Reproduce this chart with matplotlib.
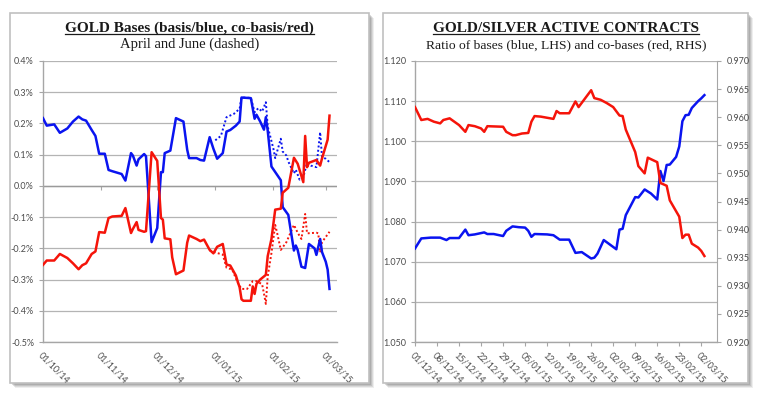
import matplotlib
matplotlib.use("Agg")
import matplotlib.pyplot as plt
import matplotlib.dates as mdates
from matplotlib.patches import Rectangle
from matplotlib.lines import Line2D
from matplotlib.ticker import FuncFormatter
import pandas as pd

# ---- left panel: GOLD bases (% values) ----
basis_apr_dates = [
    "2014-10-01", "2014-10-03", "2014-10-07", "2014-10-10", "2014-10-14", "2014-10-17",
    "2014-10-20", "2014-10-22", "2014-10-24", "2014-10-27", "2014-10-29", "2014-10-31",
    "2014-11-03", "2014-11-05", "2014-11-07", "2014-11-12", "2014-11-14", "2014-11-17",
    "2014-11-18", "2014-11-20", "2014-11-21", "2014-11-24", "2014-11-25", "2014-11-28",
    "2014-12-01", "2014-12-03", "2014-12-04", "2014-12-05", "2014-12-08", "2014-12-11",
    "2014-12-15", "2014-12-17", "2014-12-18", "2014-12-22", "2014-12-24", "2014-12-26",
    "2014-12-29", "2014-12-31", "2015-01-02", "2015-01-05", "2015-01-07", "2015-01-09",
    "2015-01-12", "2015-01-14", "2015-01-15", "2015-01-20", "2015-01-22", "2015-01-23",
    "2015-01-25", "2015-01-27", "2015-01-28", "2015-01-29", "2015-01-31", "2015-02-05",
    "2015-02-06", "2015-02-09", "2015-02-12", "2015-02-13", "2015-02-14", "2015-02-16",
    "2015-02-18", "2015-02-20", "2015-02-23", "2015-02-24", "2015-02-26", "2015-02-27",
    "2015-03-01", "2015-03-02", "2015-03-03",
]
basis_apr = [
    0.217, 0.193, 0.197, 0.170, 0.184, 0.206,
    0.222, 0.213, 0.209, 0.179, 0.160, 0.103,
    0.103, 0.051, 0.047, 0.038, 0.017, 0.105,
    0.097, 0.065, 0.085, 0.102, 0.095, -0.180,
    -0.135, 0.044, 0.044, 0.105, 0.113, 0.217,
    0.206, 0.116, 0.089, 0.089, 0.083, 0.081,
    0.156, 0.119, 0.087, 0.105, 0.174, 0.179,
    0.193, 0.206, 0.283, 0.281, 0.215, 0.228,
    0.206, 0.180, 0.220, 0.177, 0.062, 0.018,
    -0.068, -0.093, -0.207, -0.191, -0.205, -0.259,
    -0.263, -0.186, -0.200, -0.221, -0.170, -0.212,
    -0.243, -0.268, -0.330,
]

cobasis_apr_dates = [
    "2014-10-01", "2014-10-03", "2014-10-07", "2014-10-10", "2014-10-14", "2014-10-17",
    "2014-10-20", "2014-10-22", "2014-10-24", "2014-10-27", "2014-10-29", "2014-10-31",
    "2014-11-03", "2014-11-05", "2014-11-07", "2014-11-12", "2014-11-14", "2014-11-17",
    "2014-11-18", "2014-11-20", "2014-11-21", "2014-11-24", "2014-11-25", "2014-11-28",
    "2014-12-01", "2014-12-03", "2014-12-04", "2014-12-05", "2014-12-08", "2014-12-09",
    "2014-12-11", "2014-12-15", "2014-12-17", "2014-12-18", "2014-12-22", "2014-12-24",
    "2014-12-26", "2014-12-29", "2014-12-31", "2015-01-02", "2015-01-05", "2015-01-07",
    "2015-01-09", "2015-01-12", "2015-01-13", "2015-01-14", "2015-01-15", "2015-01-16",
    "2015-01-20", "2015-01-21", "2015-01-22", "2015-01-23", "2015-01-25", "2015-01-27",
    "2015-01-28", "2015-01-29", "2015-01-31", "2015-02-02", "2015-02-05", "2015-02-06",
    "2015-02-09", "2015-02-12", "2015-02-14", "2015-02-17", "2015-02-18", "2015-02-19",
    "2015-02-20", "2015-02-24", "2015-02-26", "2015-02-27", "2015-03-02", "2015-03-03",
]
cobasis_apr = [
    -0.253, -0.239, -0.239, -0.218, -0.231, -0.248,
    -0.267, -0.254, -0.248, -0.218, -0.210, -0.148,
    -0.150, -0.103, -0.098, -0.096, -0.071, -0.151,
    -0.138, -0.116, -0.141, -0.147, -0.145, 0.108,
    0.080, -0.103, -0.108, -0.168, -0.171, -0.229,
    -0.283, -0.271, -0.182, -0.159, -0.170, -0.177,
    -0.172, -0.205, -0.216, -0.195, -0.186, -0.252,
    -0.255, -0.287, -0.307, -0.325, -0.363, -0.368,
    -0.368, -0.322, -0.346, -0.314, -0.300, -0.290,
    -0.285, -0.225, -0.170, -0.076, -0.073, -0.022,
    -0.006, 0.090, 0.071, 0.012, 0.160, 0.060,
    0.074, 0.083, 0.065, 0.088, 0.148, 0.225,
]

basis_jun_dates = [
    "2015-01-01", "2015-01-04", "2015-01-07", "2015-01-11", "2015-01-14", "2015-01-15",
    "2015-01-20", "2015-01-22", "2015-01-24", "2015-01-26", "2015-01-28", "2015-01-29",
    "2015-02-01", "2015-02-02", "2015-02-05", "2015-02-06", "2015-02-08", "2015-02-09",
    "2015-02-12", "2015-02-13", "2015-02-15", "2015-02-17", "2015-02-19", "2015-02-21",
    "2015-02-24", "2015-02-26", "2015-02-27", "2015-03-01", "2015-03-03",
]
basis_jun = [
    0.146, 0.160, 0.220, 0.231, 0.247, 0.283,
    0.282, 0.236, 0.249, 0.238, 0.268, 0.190,
    0.120, 0.089, 0.151, 0.110, 0.097, 0.078,
    0.040, 0.052, 0.020, 0.028, 0.074, 0.065,
    0.060, 0.172, 0.092, 0.087, 0.076,
]

cobasis_jun_dates = [
    "2014-12-29", "2015-01-02", "2015-01-05", "2015-01-07", "2015-01-10", "2015-01-13",
    "2015-01-15", "2015-01-18", "2015-01-21", "2015-01-23", "2015-01-26", "2015-01-27",
    "2015-01-28", "2015-01-29", "2015-01-31", "2015-02-02", "2015-02-03", "2015-02-05",
    "2015-02-08", "2015-02-12", "2015-02-14", "2015-02-16", "2015-02-18", "2015-02-19",
    "2015-02-24", "2015-02-25", "2015-02-26", "2015-02-27", "2015-03-03",
]
cobasis_jun = [
    -0.207, -0.215, -0.220, -0.262, -0.268, -0.310,
    -0.330, -0.330, -0.305, -0.305, -0.315, -0.345,
    -0.378, -0.290, -0.215, -0.125, -0.150, -0.205,
    -0.180, -0.125, -0.150, -0.170, -0.090, -0.152,
    -0.150, -0.152, -0.213, -0.180, -0.147,
]

# ---- right panel: GOLD/SILVER ratios ----
ratio_basis_dates = [
    "2014-12-01", "2014-12-03", "2014-12-06", "2014-12-09", "2014-12-11", "2014-12-12",
    "2014-12-15", "2014-12-17", "2014-12-18", "2014-12-20", "2014-12-23", "2014-12-24",
    "2014-12-26", "2014-12-29", "2014-12-30", "2015-01-01", "2015-01-03", "2015-01-05",
    "2015-01-06", "2015-01-07", "2015-01-08", "2015-01-12", "2015-01-14", "2015-01-16",
    "2015-01-19", "2015-01-21", "2015-01-23", "2015-01-26", "2015-01-27", "2015-01-28",
    "2015-01-30", "2015-02-03", "2015-02-04", "2015-02-05", "2015-02-06", "2015-02-09",
    "2015-02-10", "2015-02-12", "2015-02-14", "2015-02-16", "2015-02-17", "2015-02-18",
    "2015-02-19", "2015-02-20", "2015-02-22", "2015-02-23", "2015-02-24", "2015-02-25",
    "2015-02-26", "2015-02-27", "2015-03-01", "2015-03-02", "2015-03-03",
]
ratio_basis = [
    1.0733, 1.0758, 1.0760, 1.0760, 1.0754, 1.0759,
    1.0759, 1.0780, 1.0766, 1.0768, 1.0773, 1.0769,
    1.0769, 1.0764, 1.0777, 1.0788, 1.0786, 1.0785,
    1.0777, 1.0762, 1.0769, 1.0768, 1.0766, 1.0755,
    1.0755, 1.0722, 1.0724, 1.0708, 1.0710, 1.0720,
    1.0754, 1.0731, 1.0780, 1.0782, 1.0816, 1.0861,
    1.0860, 1.0880, 1.0870, 1.0855, 1.0926, 1.0901,
    1.0941, 1.0942, 1.0961, 1.0987, 1.1050, 1.1065,
    1.1066, 1.1083, 1.1100, 1.1107, 1.1115,
]

ratio_cobasis_dates = [
    "2014-12-01", "2014-12-03", "2014-12-05", "2014-12-07", "2014-12-09", "2014-12-10",
    "2014-12-12", "2014-12-13", "2014-12-15", "2014-12-17", "2014-12-18", "2014-12-20",
    "2014-12-22", "2014-12-23", "2014-12-24", "2014-12-29", "2014-12-30", "2015-01-01",
    "2015-01-02", "2015-01-04", "2015-01-06", "2015-01-07", "2015-01-08", "2015-01-10",
    "2015-01-13", "2015-01-14", "2015-01-15", "2015-01-16", "2015-01-19", "2015-01-21",
    "2015-01-22", "2015-01-26", "2015-01-27", "2015-01-29", "2015-01-31", "2015-02-02",
    "2015-02-04", "2015-02-05", "2015-02-06", "2015-02-09", "2015-02-10", "2015-02-12",
    "2015-02-13", "2015-02-16", "2015-02-17", "2015-02-19", "2015-02-20", "2015-02-23",
    "2015-02-24", "2015-02-25", "2015-02-26", "2015-02-27", "2015-03-01", "2015-03-02",
    "2015-03-03",
]
ratio_cobasis = [
    0.9618, 0.9595, 0.9597, 0.9592, 0.9589, 0.9595,
    0.9598, 0.9594, 0.9586, 0.9574, 0.9586, 0.9584,
    0.9580, 0.9574, 0.9584, 0.9583, 0.9574, 0.9568,
    0.9568, 0.9571, 0.9572, 0.9592, 0.9602, 0.9601,
    0.9598, 0.9597, 0.9611, 0.9607, 0.9607, 0.9628,
    0.9618, 0.9648, 0.9634, 0.9631, 0.9625, 0.9618,
    0.9603, 0.9602, 0.9578, 0.9538, 0.9513, 0.9500,
    0.9528, 0.9520, 0.9483, 0.9478, 0.9452, 0.9423,
    0.9385, 0.9391, 0.9391, 0.9375, 0.9368, 0.9362,
    0.9353,
]

left_ticks = ["2014-10-01", "2014-11-01", "2014-12-01", "2015-01-01", "2015-02-01", "2015-03-01"]
right_ticks = pd.date_range("2014-12-01", "2015-03-02", freq="7D")

BLUE = "#0a14f0"
RED = "#f5140a"
GRID = "#b4b4b4"
SPINE = "#a6a6a6"
TICK_TXT = "#4d4d4d"
TICK_FONT = "Lato"
TICK_SIZE = 6.5
TITLE_FONT = "Liberation Serif"

W, H = 764, 398
fig = plt.figure(figsize=(W / 100, H / 100), dpi=100)
fig.patch.set_facecolor("white")


def px_rect(x0, y0, x1, y1):
    # pixel box (y from top) -> figure fraction [l, b, w, h]
    return [x0 / W, (H - y1) / H, (x1 - x0) / W, (y1 - y0) / H]


def panel_frame(x0, y0, x1, y1):
    for off, alpha in [(5, 0.10), (4, 0.14), (3, 0.18), (2, 0.22)]:
        l, b, w, h = px_rect(x0 + off, y0 + off, x1 + off, y1 + off)
        fig.patches.append(Rectangle((l, b), w, h, transform=fig.transFigure,
                                     facecolor="#606060", edgecolor="none", alpha=alpha, zorder=-3))
    l, b, w, h = px_rect(x0, y0, x1, y1)
    fig.patches.append(Rectangle((l, b), w, h, transform=fig.transFigure,
                                 facecolor="white", edgecolor="#c0c0c0", linewidth=1.2, zorder=-2))


panel_frame(10, 13, 369, 383)
panel_frame(383, 13, 748, 383)


def style_axes(ax):
    ax.set_facecolor("none")
    for side in ("top", "right"):
        ax.spines[side].set_visible(False)
    for side in ("left", "bottom"):
        ax.spines[side].set_color(SPINE)
        ax.spines[side].set_linewidth(1.0)
    ax.grid(axis="y", color=GRID, linewidth=0.9)
    ax.set_axisbelow(True)
    ax.tick_params(axis="both", colors=SPINE, labelcolor=TICK_TXT, labelsize=TICK_SIZE,
                   direction="out", length=3, width=0.8)
    for lab in ax.get_xticklabels() + ax.get_yticklabels():
        lab.set_fontfamily(TICK_FONT)


# ---- left chart ----
ax1 = fig.add_axes(px_rect(43, 61, 337, 342))
ax1.plot(pd.to_datetime(basis_apr_dates), basis_apr, color=BLUE, lw=1.8, zorder=3)
ax1.plot(pd.to_datetime(cobasis_apr_dates), cobasis_apr, color=RED, lw=1.8, zorder=3)
ax1.plot(pd.to_datetime(basis_jun_dates), basis_jun, color=BLUE, lw=1.4, ls=(0, (1, 1.2)), zorder=2)
ax1.plot(pd.to_datetime(cobasis_jun_dates), cobasis_jun, color=RED, lw=1.4, ls=(0, (1, 1.2)), zorder=2)
ax1.set_ylim(-0.5, 0.4)
ax1.set_yticks([-0.5, -0.4, -0.3, -0.2, -0.1, 0.0, 0.1, 0.2, 0.3, 0.4])
ax1.yaxis.set_major_formatter(FuncFormatter(lambda v, p: f"{v:.1f}%"))
ax1.set_xlim(pd.Timestamp("2014-10-01"), pd.Timestamp("2015-03-07"))
lt = pd.to_datetime(left_ticks)
ax1.set_xticks(lt)
ax1.xaxis.set_major_formatter(mdates.DateFormatter("%d/%m/%y"))
ax1.axhline(0, color="#9a9a9a", lw=1.0, zorder=1)
style_axes(ax1)
ax1.tick_params(axis="x", length=0, pad=6)
plt.setp(ax1.get_xticklabels(), rotation=-45, ha="left", va="top", rotation_mode="anchor")
zero_ax = ax1.secondary_xaxis(0.0, transform=ax1.transData)
zero_ax.set_xticks(lt)
zero_ax.tick_params(axis="x", direction="out", length=3, width=0.8, colors=SPINE, labelbottom=False)
zero_ax.spines["bottom"].set_visible(False)

# ---- right chart ----
ax2 = fig.add_axes(px_rect(415, 61, 717, 342))
ax2.plot(pd.to_datetime(ratio_basis_dates), ratio_basis, color=BLUE, lw=1.8, zorder=3)
ax2.set_ylim(1.05, 1.12)
ax2.set_yticks([1.05, 1.06, 1.07, 1.08, 1.09, 1.10, 1.11, 1.12])
ax2.yaxis.set_major_formatter(FuncFormatter(lambda v, p: f"{v:.3f}"))
ax2.set_xlim(pd.Timestamp("2014-12-01"), pd.Timestamp("2015-03-07"))
ax2.set_xticks(right_ticks)
ax2.xaxis.set_major_formatter(mdates.DateFormatter("%d/%m/%y"))
style_axes(ax2)
ax2.tick_params(axis="x", pad=3)
plt.setp(ax2.get_xticklabels(), rotation=-45, ha="left", va="top", rotation_mode="anchor")

ax3 = ax2.twinx()
ax3.plot(pd.to_datetime(ratio_cobasis_dates), ratio_cobasis, color=RED, lw=1.8, zorder=3)
ax3.set_ylim(0.92, 0.97)
ax3.set_yticks([0.92, 0.925, 0.93, 0.935, 0.94, 0.945, 0.95, 0.955, 0.96, 0.965, 0.97])
ax3.yaxis.set_major_formatter(FuncFormatter(lambda v, p: f"{v:.3f}"))
for side in ("top", "left", "bottom"):
    ax3.spines[side].set_visible(False)
ax3.spines["right"].set_color(SPINE)
ax3.tick_params(axis="y", colors=SPINE, labelcolor=TICK_TXT, labelsize=TICK_SIZE,
                direction="out", length=3, width=0.8, pad=4)
for lab in ax3.get_yticklabels():
    lab.set_fontfamily(TICK_FONT)

# ---- titles ----
titles = [
    (189.5, "GOLD Bases (basis/blue, co-basis/red)", "April and June (dashed)", 10.5),
    (566, "GOLD/SILVER ACTIVE CONTRACTS", "Ratio of bases (blue, LHS) and co-bases (red, RHS)", 9.7),
]
title_objs = []
for cx, main, sub, sub_size in titles:
    t = fig.text(cx / W, 1 - 31.5 / H, main, ha="center", va="baseline",
                 fontsize=11, fontweight="bold", fontfamily=TITLE_FONT, color="#1a1a1a")
    fig.text(cx / W, 1 - 48 / H, sub, ha="center", va="baseline",
             fontsize=sub_size, fontfamily=TITLE_FONT, color="#1a1a1a")
    title_objs.append(t)

fig.canvas.draw()
renderer = fig.canvas.get_renderer()
for t in title_objs:
    bb = t.get_window_extent(renderer)
    y = (H - 33.5) / H
    fig.lines.append(Line2D([bb.x0 / W, bb.x1 / W], [y, y], transform=fig.transFigure,
                            color="#1a1a1a", lw=0.9))

fig.savefig("out.png", dpi=100, facecolor="white")
